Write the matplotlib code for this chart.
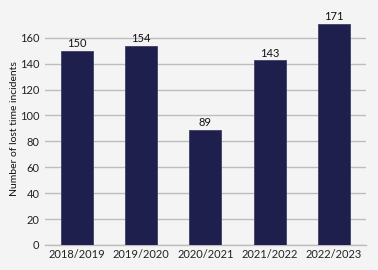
import matplotlib
matplotlib.use('Agg')
import matplotlib.pyplot as plt

# Data
years = ['2018/2019', '2019/2020', '2020/2021', '2021/2022', '2022/2023']
incidents = [150, 154, 89, 143, 171]

plt.rcParams['font.family'] = ['Lato', 'DejaVu Sans']

fig = plt.figure(figsize=(3.78, 2.70), dpi=100, facecolor='#f4f4f4')
ax = fig.add_axes([0.119, 0.0926, 0.849, 0.8634])
ax.set_facecolor('#f4f4f4')

x = range(len(years))
bars = ax.bar(x, incidents, width=0.5, color='#1f1f4d', edgecolor='#40406a', linewidth=0.6, zorder=3)
for xi, v in zip(x, incidents):
    ax.text(xi, v + 1, str(v), ha='center', va='bottom', fontsize=8, color='#111111')

ax.set_xlim(-0.5, 4.5)
ax.set_ylim(0, 180)
ax.set_yticks(range(0, 161, 20))
ax.set_xticks(list(x))
ax.set_xticklabels(years, fontsize=8, color='#222222')
ax.tick_params(axis='y', labelsize=8, colors='#222222', length=0, pad=4)
ax.tick_params(axis='x', length=0, pad=3)
ax.yaxis.grid(True, color='#bdbdbd', linewidth=1.0, zorder=0)
ax.set_axisbelow(True)
for s in ['top', 'right', 'left']:
    ax.spines[s].set_visible(False)
ax.spines['bottom'].set_color('#bdbdbd')
ax.spines['bottom'].set_linewidth(1.0)
ax.set_ylabel('Number of lost time incidents', fontsize=7.5, color='#111111', labelpad=1)

plt.savefig('out.png', dpi=100, facecolor=fig.get_facecolor())
